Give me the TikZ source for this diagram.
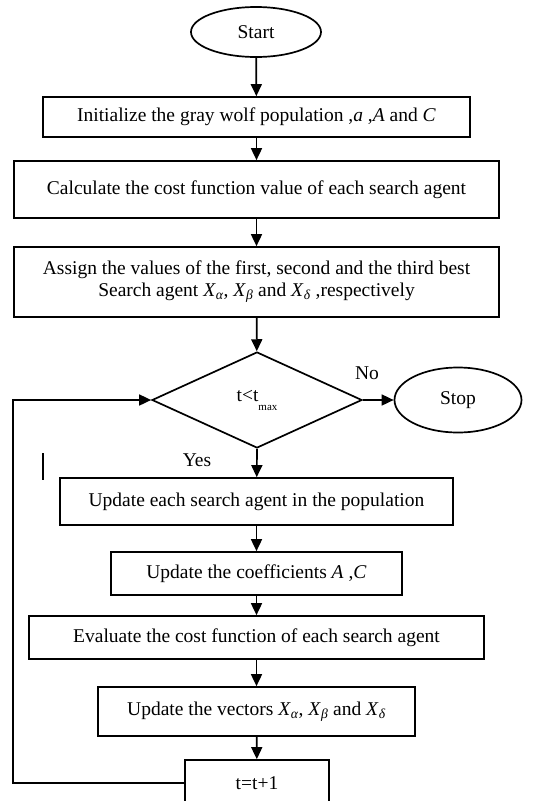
\documentclass[tikz,border=0pt]{standalone}
\usepackage{fontspec}
\setmainfont{Liberation Serif}
\usetikzlibrary{shapes.geometric, arrows.meta, positioning}

\tikzset{
    box/.style={draw, line width=1.7pt, inner sep=0pt, align=center},
    term/.style={draw, ellipse, line width=1.7pt, inner sep=0pt},
    decide/.style={draw, diamond, line width=1.7pt, inner sep=0pt, aspect=2.19},
    flow/.style={-{Triangle[length=12pt,width=11pt]}, line width=1.7pt},
}

\begin{document}
\begin{tikzpicture}[x=1pt, y=-1pt, font=\fontsize{19.5}{22}\selectfont]
    \useasboundingbox (0,0) rectangle (553,801);

    % Start and initialisation
    \node[term, minimum width=130, minimum height=50] (start) at (256,32) {Start};
    \node[box, minimum width=427, minimum height=40] (init) at (256.5,117)
        {Initialize the gray wolf population ,\textit{a} ,\textit{A} and \textit{C}};
    \node[box, minimum width=485, minimum height=57] (cost) at (256.5,189.5)
        {Calculate the cost function value of each search agent};
    \node[box, minimum width=485, minimum height=70] (assign) at (256.5,282)
        {Assign the values of the first, second and the third best\\
         Search agent \textit{X}\textsubscript{\textit{α}}, \textit{X}\textsubscript{\textit{β}} and \textit{X}\textsubscript{\textit{δ}} ,respectively};

    % Loop test
    \node[decide, minimum width=210, minimum height=96] (cond) at (257,400)
        {t<t\raisebox{-1ex}{\fontsize{11}{12}\selectfont max}};
    \node[term, minimum width=127, minimum height=65] (stop) at (458,400) {Stop};
    \node (no) at (367,373) {No};
    \node (yes) at (197,460) {Yes};

    % Loop body
    \node[box, minimum width=393, minimum height=47] (agent) at (256.5,501.5)
        {Update each search agent in the population};
    \node[box, minimum width=291, minimum height=43] (coef) at (256.5,573.5)
        {Update the coefficients \textit{A} ,\textit{C}};
    \node[box, minimum width=455, minimum height=43] (eval) at (256.5,637.5)
        {Evaluate the cost function of each search agent};
    \node[box, minimum width=317, minimum height=49] (vec) at (256.5,711.5)
        {Update the vectors \textit{X}\textsubscript{\textit{α}}, \textit{X}\textsubscript{\textit{β}} and \textit{X}\textsubscript{\textit{δ}}};
    \node[box, minimum width=144, minimum height=46] (incr) at (257,783) {t=t+1};

    % Arrows
    \draw[flow] (start) -- (init);
    \draw[flow] (init) -- (cost);
    \draw[flow] (cost) -- (assign);
    \draw[flow] (assign) -- (cond);
    \draw[flow] (cond.east) -- (stop.west);
    \draw[flow] (cond.south) -- (agent);
    \draw[flow] (agent) -- (coef);
    \draw[flow] (coef) -- (eval);
    \draw[flow] (eval) -- (vec);
    \draw[flow] (vec) -- (incr);

    % Back to the test
    \coordinate (back) at (13,783);
    \draw[flow] (incr.west) -- (back) |- (cond.west);

    % stray mark
    \draw[line width=1.2pt] (43,453) -- (43,480);
\end{tikzpicture}
\end{document}
